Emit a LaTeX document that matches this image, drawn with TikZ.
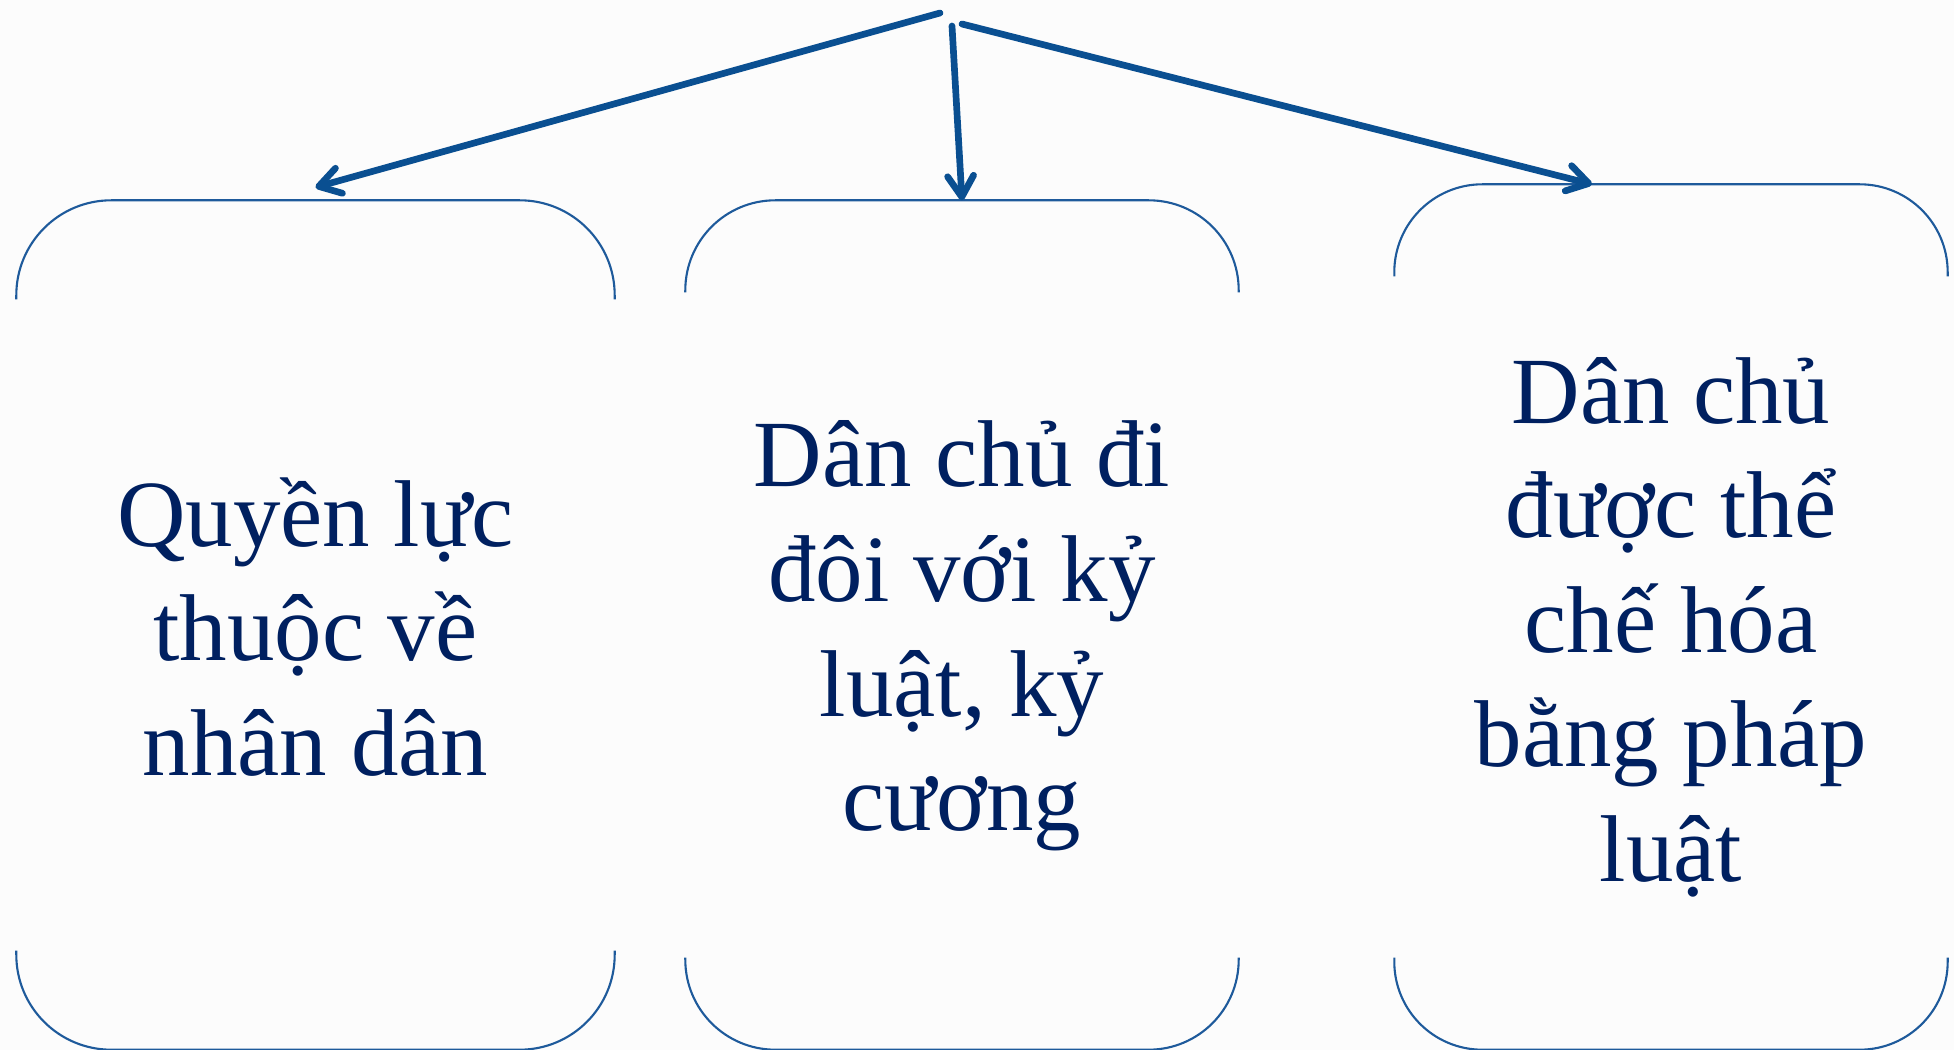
\documentclass[tikz,border=0pt]{standalone}
\usepackage{fontspec}
\setmainfont{Liberation Serif}
\usetikzlibrary{arrows.meta, positioning}
\definecolor{linkblue}{RGB}{10,79,145}
\definecolor{rimblue}{RGB}{30,90,155}
\definecolor{textnavy}{RGB}{0,32,96}

\begin{document}
\begin{tikzpicture}[
  x=0.1mm, y=-0.1mm,
  link/.style={-{Straight Barb[round, length=2.1mm, width=2.6mm]}, line width=1.9pt, linkblue, line cap=round},
  card/.style={rectangle, minimum height=84.8mm, inner sep=0pt},
  words/.style={align=center, inner sep=0pt, text=textnavy, font=\fontsize{27}{32.6}\selectfont},
  rim/.style={draw=rimblue, line width=0.6pt}
]

\fill[black!1] (0,0) rectangle (1954,1050);
\useasboundingbox (0,0) rectangle (1954,1050);

\node[card, minimum width=59.7mm] (power) at (315.5,625) {};
\node[card, minimum width=55.2mm] (discipline) at (962,625) {};
\node[card, minimum width=55.2mm, minimum height=86.4mm] (law) at (1671,617) {};

\node[words] (powertext) at ([yshift=-0.2mm]power.center) {Quyền lực\\thuộc về\\nhân dân};
\node[words] (disciplinetext) at ([yshift=-1.1mm]discipline.center) {Dân chủ đi\\đôi với kỷ\\luật, kỷ\\cương};
\node[words] (lawtext) at ([yshift=-1mm]law.center) {Dân chủ\\được thể\\chế hóa\\bằng pháp\\luật};

\coordinate (s1) at (940,13);
\coordinate (s2) at (952,26);
\coordinate (s3) at (962,24);

% Box rims, open at the sides
\draw[rim, rounded corners=9.5mm] ([yshift=-9.9mm]power.north west) |- (power.north) -| ([yshift=-9.9mm]power.north east);
\draw[rim, rounded corners=9.5mm] ([yshift=9.9mm]power.south west) |- (power.south) -| ([yshift=9.9mm]power.south east);
\draw[rim, rounded corners=9mm] ([yshift=-9.2mm]discipline.north west) |- (discipline.north) -| ([yshift=-9.2mm]discipline.north east);
\draw[rim, rounded corners=9mm] ([yshift=9.2mm]discipline.south west) |- (discipline.south) -| ([yshift=9.2mm]discipline.south east);
\draw[rim, rounded corners=8.8mm] ([yshift=-9.2mm]law.north west) |- (law.north) -| ([yshift=-9.2mm]law.north east);
\draw[rim, rounded corners=8.8mm] ([yshift=9.2mm]law.south west) |- (law.south) -| ([yshift=9.2mm]law.south east);

% Arrows
\draw[link] (s1) -- ([yshift=1.3mm]power.north);
\draw[link] (s2) -- (discipline.north);
\draw[link] (s3) -- ([xshift=-7.9mm]law.north);

\end{tikzpicture}
\end{document}
